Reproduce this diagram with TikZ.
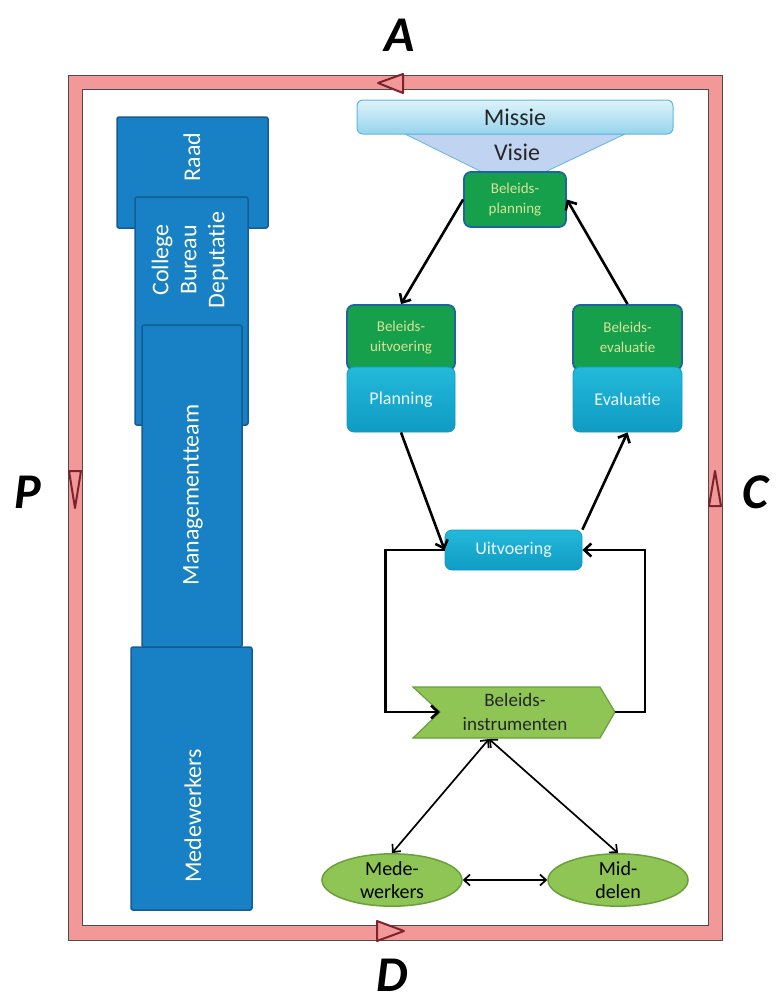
\documentclass[tikz,border=0pt]{standalone}
\usepackage{fontspec}
\setmainfont{Carlito}[Ligatures=CommonOff]
\usetikzlibrary{arrows.meta,shapes.geometric}

\definecolor{framepink}{RGB}{242,152,152}
\definecolor{framedark}{RGB}{125,35,45}
\definecolor{orgblue}{RGB}{24,128,196}
\definecolor{orgblueline}{RGB}{20,92,148}
\definecolor{polgreen}{RGB}{22,160,76}
\definecolor{polgreentext}{RGB}{214,228,150}
\definecolor{polline}{RGB}{30,100,160}
\definecolor{boxcyan}{RGB}{35,185,218}
\definecolor{boxcyandark}{RGB}{15,155,195}
\definecolor{missielight}{RGB}{222,243,250}
\definecolor{missiedark}{RGB}{150,212,236}
\definecolor{missieline}{RGB}{95,182,222}
\definecolor{visieblue}{RGB}{192,211,240}
\definecolor{instrgreen}{RGB}{142,197,84}
\definecolor{instrline}{RGB}{105,160,60}

\tikzset{
  orgbox/.style={draw=orgblueline, line width=1.5pt, fill=orgblue, rounded corners=2pt, inner sep=0pt},
  orgtext/.style={rotate=90, text=white!90!yellow, font=\fontsize{24}{28}\selectfont, align=center},
  polbox/.style={draw=polline, line width=1.8pt, fill=polgreen, rounded corners=7pt, inner sep=0pt,
    text=polgreentext, align=center, font=\fontsize{15}{20}\selectfont},
  cyanbox/.style={draw=boxcyandark, line width=0.8pt, top color=boxcyan, bottom color=boxcyandark,
    rounded corners=7pt, inner sep=0pt, text=white!92!cyan, font=\fontsize{18}{20}\selectfont},
  oval/.style={ellipse, draw=instrline, line width=1.5pt, fill=instrgreen, inner sep=0pt,
    minimum width=140pt, minimum height=50pt, align=center, font=\fontsize{20}{23}\selectfont},
  corner/.style={draw=framedark, line width=2pt, fill=framepink, line join=round},
  letter/.style={font=\fontsize{50}{50}\bfseries\itshape},
  arr/.style={line width=2.6pt, -{Straight Barb[length=7pt,width=13pt]}},
  darr/.style={line width=1.7pt, {Straight Barb[length=6pt,width=11pt]}-{Straight Barb[length=6pt,width=11pt]}}
}

\begin{document}
\begin{tikzpicture}[x=1pt,y=-1pt]
\useasboundingbox (0,0) rectangle (782,1005);

% The frame with its four turning arrows
\fill[framepink, draw=gray!60!black, line width=0.8pt, even odd rule]
  (68,75) rectangle (722,940) (82,89) rectangle (708,925);
\draw[corner] (378,83) -- (403,74) -- (403,93) -- cycle;
\draw[corner] (69,471) -- (81,471) -- (75,508) -- cycle;
\draw[corner] (709,506) -- (721,506) -- (715,471) -- cycle;
\draw[corner] (377,921) -- (377,941) -- (404,931) -- cycle;

\node[letter] (labA) at (400,35) {A};
\node[letter] (labP) at (28,492) {P};
\node[letter] (labC) at (755,492) {C};
\node[letter] (labD) at (392,975) {D};

% The organisation column
\node[orgbox, minimum width=151pt, minimum height=111pt] (raad) at (192.5,172.5) {};
\node[orgbox, minimum width=113pt, minimum height=228pt] (college) at (191.5,311) {};
\node[orgbox, minimum width=100pt, minimum height=322pt] (mteam) at (192,486) {};
\node[orgbox, minimum width=121pt, minimum height=263pt] (medwcol) at (191.5,778.5) {};
\node[orgtext] (raadtxt) at (192,157) {Raad};
\node[orgtext] (collegetxt) at (190,260) {College\\Bureau\\Deputatie};
\node[orgtext] (mteamtxt) at (193,495) {Managementteam};
\node[orgtext] (medwtxt) at (193,816) {Medewerkers};

% Missie and visie
\fill[visieblue, draw=missieline, line width=0.8pt] (405,134) -- (625,134) -- (545,172) -- (482,172) -- cycle;
\node[draw=missieline, line width=1pt, top color=missielight, bottom color=missiedark, rounded corners=6pt,
  minimum width=316pt, minimum height=34pt, inner sep=0pt, font=\fontsize{24}{24}\selectfont, text=black!85]
  (missie) at (515,117) {Missie};
\node[font=\fontsize{24}{24}\selectfont, text=black!85] (visie) at (517,152) {Visie};

% The policy cycle
\node[polbox, minimum width=102pt, minimum height=55pt] (bplan) at (515,199.5) {Beleids-\\planning};
\node[polbox, minimum width=108pt, minimum height=65pt] (buitv) at (401,337.5) {Beleids-\\uitvoering};
\node[cyanbox, minimum width=108pt, minimum height=65pt] (plan) at (401,399.5) {Planning};
\node[polbox, minimum width=109pt, minimum height=65pt] (beval) at (627.5,337.5) {Beleids-\\evaluatie};
\node[cyanbox, minimum width=109pt, minimum height=65pt] (eval) at (627.5,399.5) {Evaluatie};
\node[cyanbox, minimum width=137pt, minimum height=40pt] (uitv) at (513.5,550) {Uitvoering};

% Beleidsinstrumenten
\coordinate (instrL) at (440,712);
\coordinate (instrR) at (615,712);
\coordinate (instrB) at (489,739);
\fill[instrgreen, draw=instrline, line width=1.2pt]
  (413,687) -- (600,687) -- (instrR) -- (600,738) -- (413,738) -- (instrL) -- cycle;
\node[align=center, font=\fontsize{19}{24}\selectfont, text=black!85] (instr) at (515,712) {Beleids-\\instrumenten};

\node[oval] (medew) at (392,880) {Mede-\\werkers};
\node[oval] (midd) at (618,880) {Mid-\\delen};

% Arrows
\draw[arr] (bplan.west) -- (buitv.north);
\draw[arr] (beval.north) -- (bplan.east);
\draw[arr] (plan.south) -- (uitv.west);
\draw[arr] (uitv.north east) -- (eval.south);
\draw[arr] (uitv.west) -- ++(-59,0) |- (instrL);
\draw[arr] (instrR) -- ++(30,0) |- (uitv.east);
\draw[darr] (instrB) -- (medew.north);
\draw[darr] (instrB) -- (midd.north);
\draw[darr] (medew.east) -- (midd.west);

\end{tikzpicture}
\end{document}
